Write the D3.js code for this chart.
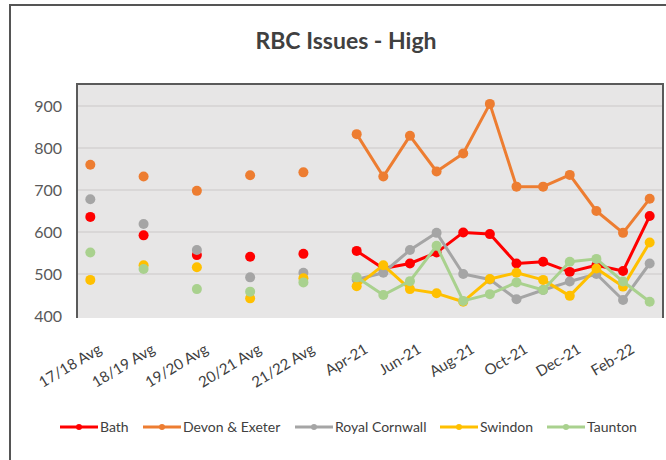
<!DOCTYPE html>
<html>
<head>
<meta charset="utf-8">
<script src="https://cdn.jsdelivr.net/npm/d3@7.9.0/dist/d3.min.js"></script>
<style>
  body { margin: 0; background: #fff; }
  svg { display: block; font-family: Lato, "Open Sans", sans-serif; }
</style>
</head>
<body>
<svg id="chart" width="666" height="460"></svg>
<script>
// categories ("" = empty spacer slot between the yearly averages)
const categories = ['17/18 Avg', '', '18/19 Avg', '', '19/20 Avg', '', '20/21 Avg', '', '21/22 Avg', '',
  'Apr-21', 'May-21', 'Jun-21', 'Jul-21', 'Aug-21', 'Sep-21', 'Oct-21', 'Nov-21', 'Dec-21', 'Jan-22', 'Feb-22', 'Mar-22'];

const bath     = [636, null, 592, null, 545, null, 541, null, 548, null, 555, 513, 525, 551, 599, 595, 525, 529, 505, 521, 507, 638];
const devon    = [760, null, 732, null, 698, null, 735, null, 742, null, 833, 732, 829, 744, 787, 905, 708, 708, 736, 650, 598, 679];
const cornwall = [678, null, 619, null, 557, null, 492, null, 503, null, 487, 503, 557, 598, 500, 487, 440, 462, 482, 500, 438, 525];
const swindon  = [486, null, 521, null, 516, null, 442, null, 490, null, 471, 521, 464, 454, 434, 488, 503, 486, 448, 513, 470, 575];
const taunton  = [551, null, 512, null, 464, null, 458, null, 480, null, 492, 450, 483, 567, 436, 452, 480, 462, 529, 536, 482, 434];

const seriesNames = ['Bath', 'Devon & Exeter', 'Royal Cornwall', 'Swindon', 'Taunton'];
const yTicks = [400, 500, 600, 700, 800, 900];

const series = [
  { name: seriesNames[0], values: bath, color: '#ff0000' },
  { name: seriesNames[1], values: devon, color: '#ed7d31' },
  { name: seriesNames[2], values: cornwall, color: '#a5a5a5' },
  { name: seriesNames[3], values: swindon, color: '#ffc000' },
  { name: seriesNames[4], values: taunton, color: '#a9d18e' },
];

const svg = d3.select('#chart');

// outer frame (only top and left show in the crop)
svg.append('path')
  .attr('d', 'M10,460 L10,5 L666,5')
  .attr('fill', 'none')
  .attr('stroke', '#555')
  .attr('stroke-width', 2);

// title
svg.append('text')
  .attr('x', 346).attr('y', 49)
  .attr('text-anchor', 'middle')
  .attr('font-size', 23)
  .attr('font-weight', 'bold')
  .attr('fill', '#404040')
  .text('RBC Issues - High');

// plot area
const plotL = 77, plotR = 663, plotT = 84, plotB = 318;
svg.append('rect')
  .attr('x', plotL).attr('y', plotT)
  .attr('width', plotR - plotL).attr('height', plotB - plotT)
  .attr('fill', '#e7e6e6');

let x = d3.scaleBand().domain(d3.range(categories.length)).range([plotL, plotR]);
let y = d3.scaleLinear().domain([400, 900]).range([316, 106]);
const cx = (i) => x(i) + x.bandwidth() / 2;

// gridlines
svg.append('g').selectAll('line')
  .data(yTicks.slice(1))
  .join('line')
  .attr('x1', plotL).attr('x2', plotR)
  .attr('y1', (d) => y(d)).attr('y2', (d) => y(d))
  .attr('stroke', '#d4d2d2')
  .attr('stroke-width', 1.5);

// border on top / left / right
svg.append('path')
  .attr('d', `M${plotL},${plotB} L${plotL},${plotT} L${plotR},${plotT} L${plotR},${plotB}`)
  .attr('fill', 'none')
  .attr('stroke', '#5a5a5a')
  .attr('stroke-width', 2);

// y axis
const yAxis = svg.append('g')
  .attr('transform', `translate(${plotL - 6},0)`)
  .call(d3.axisLeft(y).tickValues(yTicks).tickSize(0).tickPadding(9));
yAxis.select('.domain').remove();
yAxis.selectAll('text').attr('font-size', 16).attr('fill', '#595959').attr('font-family', 'Lato');

// x axis labels, every other category
const xAxis = svg.append('g')
  .attr('transform', `translate(0,${plotB})`)
  .call(d3.axisBottom(x).tickSize(0).tickFormat((i) => (i % 2 === 0 ? categories[i] : '')));
xAxis.select('.domain').remove();
xAxis.selectAll('text')
  .attr('font-size', 15)
  .attr('fill', '#404040')
  .attr('font-family', 'Lato')
  .attr('text-anchor', 'end')
  .attr('dy', null)
  .attr('y', null)
  .attr('transform', `translate(${x.bandwidth() / 2 - 1},34) rotate(-31)`);

// lines and markers
const line = d3.line()
  .defined((d) => d != null)
  .x((d, i) => cx(i))
  .y((d) => y(d));

series.forEach((s) => {
  const g = svg.append('g');
  g.append('path')
    .attr('d', line(s.values))
    .attr('fill', 'none')
    .attr('stroke', s.color)
    .attr('stroke-width', 3)
    .attr('stroke-linejoin', 'round');
  g.selectAll('circle')
    .data(s.values.map((v, i) => ({ v, i })).filter((d) => d.v != null))
    .join('circle')
    .attr('cx', (d) => cx(d.i))
    .attr('cy', (d) => y(d.v))
    .attr('r', 5)
    .attr('fill', s.color);
});

// legend
const legendX = [60, 143, 295, 440, 547];
const legend = svg.append('g').attr('transform', 'translate(0,427)');
series.forEach((s, idx) => {
  const item = legend.append('g').attr('transform', `translate(${legendX[idx]},0)`);
  item.append('line')
    .attr('x1', 0).attr('x2', 38)
    .attr('stroke', s.color).attr('stroke-width', 3);
  item.append('circle').attr('cx', 19).attr('r', 3).attr('fill', s.color);
  item.append('text')
    .attr('x', 40).attr('y', 5)
    .attr('font-size', 14)
    .attr('fill', '#404040')
    .text(s.name);
});
</script>
</body>
</html>
